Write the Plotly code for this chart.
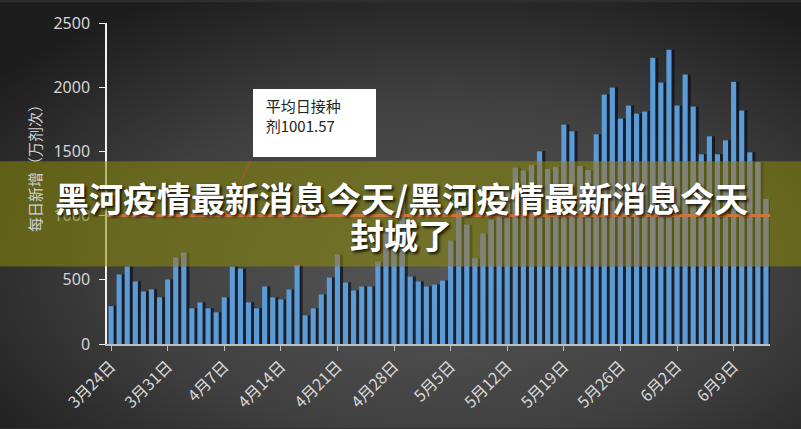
import base64
import datetime
import plotly.graph_objects as go

# ---------------- data ----------------
START_DATE = datetime.date(2021, 3, 24)
daily_new = [295, 542, 604, 488, 410, 426, 364, 503, 673, 712,
             279, 325, 279, 248, 364, 604, 588, 325, 279, 449,
             364, 348, 426, 615, 224, 279, 387, 519, 697, 480,
             418, 449, 449, 642, 900, 850, 1150, 526, 488, 449,
             464, 495, 805, 1080, 929, 666, 859, 967, 1100, 1200,
             1372, 1350, 1393, 1502, 1362, 1378, 1710, 1656, 1385, 1354,
             1633, 1943, 1997, 1757, 1858, 1796, 1811, 2229, 2036, 2291,
             1858, 2098, 1850, 1478, 1618, 1478, 1587, 2043, 1819, 1494,
             1416, 1130]
dates = [START_DATE + datetime.timedelta(days=i) for i in range(len(daily_new))]
categories = [f"{d.month}月{d.day}日" for d in dates]
tick_labels = categories[::7]
avg_value = 1001.57
avg_text = "平均日接种<br>剂1001.57"
y_ticks = [0, 500, 1000, 1500, 2000, 2500]
y_title = "每日新增（万剂次）"
banner_line1 = "黑河疫情最新消息今天/黑河疫情最新消息今天"
banner_line2 = "封城了"

# ---------------- layout constants ----------------
W, H = 801, 429
L, R, T, B = 107, 31, 21, 85
PW, PH = W - L - R, H - T - B
Y_MAX = 2500
BAND_LO, BAND_HI = 604, 1424   # banner band (in y-axis units)


def px_x(p):
    return (p - L) / PW


def px_y(p):
    return (H - B - p) / PH


band_seg = [max(0, min(v, BAND_HI) - BAND_LO) for v in daily_new]

svg = ("<svg xmlns='http://www.w3.org/2000/svg' width='801' height='429' viewBox='0 0 801 429' "
       "preserveAspectRatio='none'><defs><radialGradient id='g' cx='0.56' cy='0.62' r='0.72'>"
       "<stop offset='0' stop-color='#575757'/><stop offset='0.55' stop-color='#404040'/>"
       "<stop offset='1' stop-color='#1d1d1d'/></radialGradient></defs>"
       "<rect width='801' height='429' fill='url(#g)'/></svg>")
bg_src = "data:image/svg+xml;base64," + base64.b64encode(svg.encode()).decode()

fig = go.Figure()
# shadow of bars
fig.add_trace(go.Bar(x=categories, y=daily_new, width=1.0, offset=-0.3,
                     marker=dict(color="rgba(14,18,28,0.75)", line=dict(width=0)),
                     hoverinfo="skip", showlegend=False))
# main bars
fig.add_trace(go.Bar(x=categories, y=daily_new, width=0.64, offset=-0.32,
                     marker=dict(color="#5b9bd6", line=dict(width=0)),
                     showlegend=False))
# parts of the bars behind the banner
fig.add_trace(go.Bar(x=categories, y=band_seg, base=BAND_LO, width=0.64, offset=-0.32,
                     marker=dict(color="rgb(120,120,255)", line=dict(width=0)),
                     hoverinfo="skip", showlegend=False))

fig.update_layout(
    width=W, height=H,
    margin=dict(l=L, r=R, t=T, b=B),
    paper_bgcolor="#2e2e2e",
    plot_bgcolor="rgba(0,0,0,0)",
    barmode="overlay",
    showlegend=False,
    images=[dict(source=bg_src, xref="paper", yref="paper",
                 x=px_x(0), y=px_y(0), sizex=W / PW, sizey=H / PH,
                 xanchor="left", yanchor="top", sizing="stretch", layer="below")],
    xaxis=dict(type="category", categoryorder="array", categoryarray=categories,
               range=[-0.5, len(categories) - 0.5],
               tickmode="array", tickvals=tick_labels, ticktext=tick_labels,
               tickangle=-45, ticks="outside", ticklen=5, tickcolor="#bfbfbf",
               showline=True, linecolor="#bfbfbf", linewidth=1.5,
               showgrid=False, zeroline=False,
               tickfont=dict(family="Noto Sans CJK SC", size=16, color="#d8d8d8")),
    yaxis=dict(range=[0, Y_MAX], tickvals=y_ticks, ticks="outside", ticklen=6,
               tickcolor="#f0f0f0", showline=True, linecolor="#f0f0f0", linewidth=1.5,
               showgrid=False, zeroline=False, ticklabelstandoff=6,
               tickfont=dict(family="Noto Sans", size=16, color="#d4d4d4")),
    shapes=[
        dict(type="rect", xref="paper", yref="paper", x0=px_x(-5), x1=px_x(W + 5),
             y0=BAND_LO / Y_MAX, y1=BAND_HI / Y_MAX,
             fillcolor="rgba(138,138,10,0.55)", line=dict(width=0), layer="above"),
        dict(type="line", xref="paper", yref="paper", x0=0, x1=1,
             y0=avg_value / Y_MAX, y1=avg_value / Y_MAX,
             line=dict(color="#c9773c", width=3), layer="above"),
    ],
    annotations=[
        dict(text=y_title, xref="paper", yref="paper", x=px_x(34), y=px_y(164),
             textangle=-90, showarrow=False, xanchor="center", yanchor="middle",
             font=dict(family="Noto Sans CJK SC", size=15, color="#cfcfcf")),
        dict(text="", x=categories[14], y=avg_value, xref="x", yref="y",
             showarrow=True, ax=27, ay=-56, arrowhead=2, arrowsize=0.8,
             arrowwidth=1, arrowcolor="#b0552f"),
        dict(text="&nbsp;&nbsp;" + avg_text.replace("<br>", "<br>&nbsp;&nbsp;"),
             xref="paper", yref="paper", x=px_x(253), y=px_y(87),
             xanchor="left", yanchor="top", showarrow=False,
             align="left", valign="top", width=111, height=56,
             bgcolor="white", borderpad=6, borderwidth=0,
             font=dict(family="Noto Sans CJK SC", size=15, color="#222222")),
        dict(text=banner_line1, xref="paper", yref="paper", x=px_x(401), y=px_y(197),
             showarrow=False, xanchor="center", yanchor="middle",
             font=dict(family="Noto Sans CJK SC", size=34, color="white", weight="bold",
                       shadow="2px 2px 3px rgba(0,0,0,0.8)")),
        dict(text=banner_line2, xref="paper", yref="paper", x=px_x(401), y=px_y(234),
             showarrow=False, xanchor="center", yanchor="middle",
             font=dict(family="Noto Sans CJK SC", size=34, color="white", weight="bold",
                       shadow="2px 2px 3px rgba(0,0,0,0.8)")),
    ],
)

fig.write_html(
    "out.html",
    config={"displayModeBar": False},
    post_script="document.body.style.margin='0';document.body.style.background='#1e1e1e';",
)
